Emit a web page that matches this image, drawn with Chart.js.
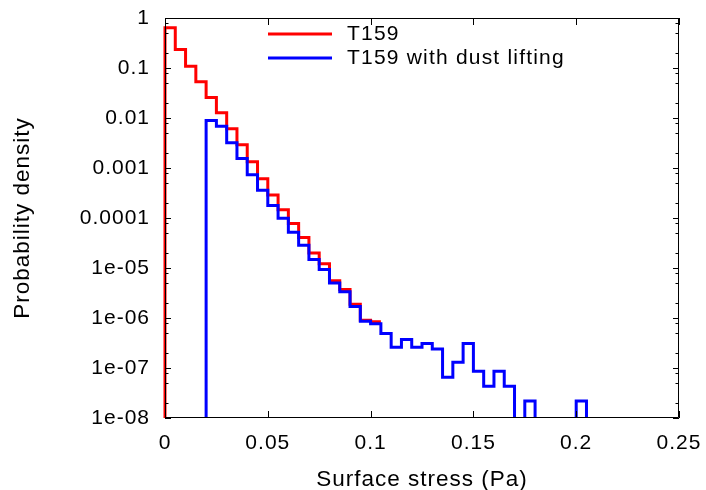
<!DOCTYPE html>
<html>
<head>
<meta charset="utf-8">
<script src="https://cdn.jsdelivr.net/npm/chart.js@4.4.0/dist/chart.umd.min.js"></script>
<style>
    html, body { margin: 0; padding: 0; background: #fff; }
    #wrap { width: 706px; height: 490px; }
</style>
</head>
<body>
<div id="wrap"><canvas id="chart" width="706" height="490"></canvas></div>
<script>
// Bin edges (Pa), 0.005 wide
const binEdges = [0, 0.005, 0.01, 0.015, 0.02, 0.025, 0.03, 0.035, 0.04, 0.045,
    0.05, 0.055, 0.06, 0.065, 0.07, 0.075, 0.08, 0.085, 0.09, 0.095,
    0.1, 0.105, 0.11, 0.115, 0.12, 0.125, 0.13, 0.135, 0.14, 0.145,
    0.15, 0.155, 0.16, 0.165, 0.17, 0.175, 0.18, 0.185, 0.19, 0.195,
    0.2, 0.205];

const redLabel = "T159";
const redFirstBin = 0;
const redValues = [0.637, 0.235, 0.109, 0.0532, 0.0258, 0.0128, 0.00612, 0.00293, 0.00133, 0.000608,
    0.000289, 0.000146, 7.75e-5, 4.07e-5, 2.0e-5, 1.21e-5, 5.57e-6, 3.72e-6, 1.89e-6, 9.0e-7,
    8.45e-7];

const blueLabel = "T159 with dust lifting";
const blueFirstBin = 4;
const blueValues = [0.00896, 0.0068, 0.00321, 0.00154, 0.000737, 0.000358, 0.000177, 9.9e-5, 5.2e-5, 2.85e-5,
    1.48e-5, 9.3e-6, 5.0e-6, 3.36e-6, 1.7e-6, 8.65e-7, 7.7e-7, 4.9e-7, 2.6e-7, 3.7e-7,
    2.6e-7, 3.1e-7, 2.4e-7, 6.5e-8, 1.3e-7, 3.1e-7, 8.6e-8, 4.3e-8, 8.6e-8, 4.3e-8,
    0, 2.2e-8, 0, 0, 0, 0, 2.2e-8];

const xTickValues = [0, 0.05, 0.1, 0.15, 0.2, 0.25];
const xTickLabels = ["0", "0.05", "0.1", "0.15", "0.2", "0.25"];
const yTickValues = [1, 0.1, 0.01, 0.001, 0.0001, 1e-5, 1e-6, 1e-7, 1e-8];
const yTickLabels = ["1", "0.1", "0.01", "0.001", "0.0001", "1e-05", "1e-06", "1e-07", "1e-08"];
const yMinorMantissas = [2, 5, 8];

const FLOOR = 1e-10; // empty bins go below the axis and get clipped
const FONT = { family: "'Liberation Sans', Arial, sans-serif", size: 21 };
const TITLE_FONT = { family: FONT.family, size: 22.5, lineHeight: 1 };

// histogram outline: rise at first edge, step through bins, close at last edge
function stepPoints(first, values, dropAtEnd) {
    const pts = [{ x: binEdges[first], y: FLOOR }];
    values.forEach((v, i) => pts.push({ x: binEdges[first + i], y: v > 0 ? v : FLOOR }));
    const last = values[values.length - 1];
    pts.push({ x: binEdges[first + values.length], y: last });
    if (dropAtEnd) pts.push({ x: binEdges[first + values.length], y: FLOOR });
    return pts;
}

const spacingPlugin = {
    id: 'spacing',
    beforeDraw(chart) { chart.ctx.letterSpacing = '1px'; }
};

const framePlugin = {
    id: 'frame',
    afterDatasetsDraw(chart) {
        const ctx = chart.ctx;
        const a = chart.chartArea;
        const xs = chart.scales.x, ys = chart.scales.y;
        ctx.save();
        ctx.strokeStyle = '#000';
        ctx.lineWidth = 1;
        ctx.beginPath();
        ctx.rect(a.left + 0.5, a.top + 0.5, a.right - a.left - 1, a.bottom - a.top - 1);
        xTickValues.forEach(v => {
            const px = Math.round(xs.getPixelForValue(v)) + 0.5;
            ctx.moveTo(px, a.bottom); ctx.lineTo(px, a.bottom - 7);
            ctx.moveTo(px, a.top); ctx.lineTo(px, a.top + 7);
        });
        yTickValues.forEach(v => {
            const py = Math.round(ys.getPixelForValue(v)) + 0.5;
            ctx.moveTo(a.left, py); ctx.lineTo(a.left + 6, py);
            ctx.moveTo(a.right, py); ctx.lineTo(a.right - 6, py);
            yMinorMantissas.forEach(m => {
                const mv = m * v;
                if (mv >= 1) return;
                const my = Math.round(ys.getPixelForValue(mv)) + 0.5;
                ctx.moveTo(a.left, my); ctx.lineTo(a.left + 3.5, my);
                ctx.moveTo(a.right, my); ctx.lineTo(a.right - 3.5, my);
            });
        });
        ctx.stroke();
        ctx.restore();
    }
};

const legendPlugin = {
    id: 'boxLegend',
    afterDraw(chart) {
        const ctx = chart.ctx;
        const a = chart.chartArea;
        const entries = [[redLabel, '#ff0000', 34], [blueLabel, '#0000ff', 58]];
        ctx.save();
        ctx.letterSpacing = '1.2px';
        ctx.font = FONT.size + 'px ' + FONT.family;
        ctx.textBaseline = 'middle';
        ctx.textAlign = 'left';
        entries.forEach(([text, color, y]) => {
            ctx.strokeStyle = color;
            ctx.lineWidth = 3;
            ctx.beginPath();
            ctx.moveTo(a.left + 103, y);
            ctx.lineTo(a.left + 167, y);
            ctx.stroke();
            ctx.fillStyle = '#000';
            ctx.fillText(text, a.left + 182, y);
        });
        ctx.restore();
    }
};

new Chart(document.getElementById('chart'), {
    type: 'line',
    data: {
        datasets: [
            {
                label: redLabel,
                data: stepPoints(redFirstBin, redValues, false),
                borderColor: '#ff0000',
                order: 1,
                stepped: 'before',
                clip: { left: 2, right: 0, top: 0, bottom: 0 }
            },
            {
                label: blueLabel,
                data: stepPoints(blueFirstBin, blueValues, true),
                borderColor: '#0000ff',
                order: 0,
                stepped: 'before',
                clip: { left: 2, right: 0, top: 0, bottom: 0 }
            }
        ]
    },
    options: {
        responsive: false,
        animation: false,
        devicePixelRatio: 1,
        layout: { padding: { top: 18, right: 27, left: 0, bottom: 0 } },
        elements: {
            point: { radius: 0 },
            line: { borderWidth: 3, tension: 0, fill: false, borderCapStyle: 'butt', borderJoinStyle: 'miter' }
        },
        plugins: { legend: { display: false }, tooltip: { enabled: false } },
        scales: {
            x: {
                type: 'linear',
                min: 0,
                max: 0.25,
                grid: { display: false, drawTicks: false },
                border: { display: false },
                afterBuildTicks: s => { s.ticks = xTickValues.map(v => ({ value: v })); },
                afterFit: s => { s.height = 72; s.paddingLeft = 0; s.paddingRight = 0; },
                ticks: {
                    color: '#000',
                    font: FONT,
                    padding: 13,
                    maxRotation: 0,
                    autoSkip: false,
                    callback: (v, i) => xTickLabels[i]
                },
                title: {
                    display: true,
                    text: 'Surface stress (Pa)',
                    color: '#000',
                    font: TITLE_FONT,
                    padding: { top: 0, bottom: -1 }
                }
            },
            y: {
                type: 'logarithmic',
                min: 1e-8,
                max: 1,
                grid: { display: false, drawTicks: false },
                border: { display: false },
                afterBuildTicks: s => { s.ticks = yTickValues.map(v => ({ value: v })); },
                afterFit: s => { s.width = 165; s.paddingTop = 0; s.paddingBottom = 0; },
                ticks: {
                    color: '#000',
                    font: FONT,
                    padding: 15,
                    autoSkip: false,
                    callback: (v, i) => yTickLabels[i]
                },
                title: {
                    display: true,
                    text: 'Probability density',
                    color: '#000',
                    font: TITLE_FONT,
                    padding: { top: 12, bottom: 0 }
                }
            }
        }
    },
    plugins: [spacingPlugin, framePlugin, legendPlugin]
});
</script>
</body>
</html>
